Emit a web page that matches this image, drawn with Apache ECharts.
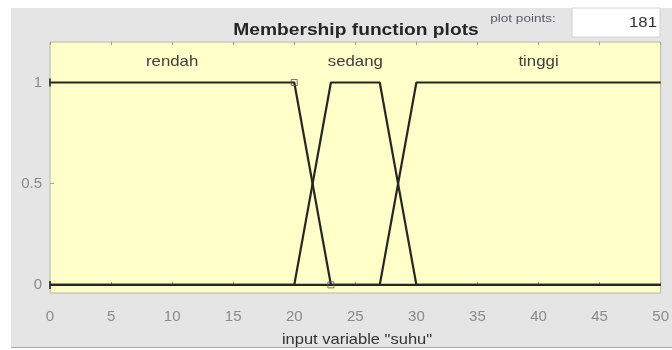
<!DOCTYPE html>
<html>
<head>
<meta charset="utf-8">
<script src="https://cdn.jsdelivr.net/npm/echarts@6/dist/echarts.min.js"></script>
<style>
  html, body { margin: 0; padding: 0; background: #ffffff; }
  #chart { width: 672px; height: 350px; }
</style>
</head>
<body>
<div id="chart"></div>
<script>
// Membership functions of the input variable "suhu" (breakpoints of each trapezoid)
const rendahX = [0, 20, 23, 50];
const rendahY = [1, 1, 0, 0];
const sedangX = [0, 20, 23, 27, 30, 50];
const sedangY = [0, 0, 1, 1, 0, 0];
const tinggiX = [0, 27, 30, 50];
const tinggiY = [0, 0, 1, 1];

// Names of the membership functions and where their labels sit
const mfNames = ['rendah', 'sedang', 'tinggi'];
const mfLabelX = [10, 25, 40];
const mfLabelY = 1.1;

// Vertex handles of the selected function (rendah)
const handleX = [20, 23];
const handleY = [1, 0];
const endX = [0, 0];
const endY = [1, 0];

const yTicks = [0, 0.5, 1];
const plotPoints = '181';
const titleText = 'Membership function plots';
const axisName = 'input variable "suhu"';

const zip = (xs, ys) => xs.map((x, i) => [x, ys[i]]);

const font = 'Liberation Sans, Arial, sans-serif';
const lineColor = '#262622';

const chart = echarts.init(document.getElementById('chart'), null, { renderer: 'canvas' });

const mfSeries = [[rendahX, rendahY], [sedangX, sedangY], [tinggiX, tinggiY]].map((p, i) => ({
  type: 'line',
  name: mfNames[i],
  data: zip(p[0], p[1]),
  showSymbol: false,
  symbol: 'none',
  lineStyle: { color: lineColor, width: 2.2 },
  z: 3
}));

// Horizontally widened text, anchored at (x, y)
function wideText(id, text, x, y, size, scaleX, opts) {
  return {
    id: id, type: 'text', x: x, y: y, scaleX: scaleX, z: 10,
    style: Object.assign({
      text: text, font: size + 'px ' + font, fill: '#333333',
      align: 'center', verticalAlign: 'middle'
    }, opts || {})
  };
}

chart.setOption({
  animation: false,
  graphic: [
    { id: 'panel', type: 'rect', shape: { x: 11, y: 8, width: 661, height: 340 }, style: { fill: '#e5e5e5' }, z: -10 },
    { id: 'panelEdge', type: 'rect', shape: { x: 11, y: 347, width: 661, height: 1 }, style: { fill: '#a8a8a8' }, z: -9 },
    { id: 'box', type: 'rect', shape: { x: 572, y: 8, width: 88, height: 29 }, style: { fill: '#ffffff', stroke: '#d4d4d4', lineWidth: 1 }, z: -5 },
    wideText('pp', plotPoints, 657, 23, 15, 1.12, { align: 'right', fill: '#333333' }),
    wideText('ppLabel', 'plot points:', 523, 19, 10, 1.35, { fill: '#5c5c6e' }),
    wideText('title', titleText, 356, 30, 17, 1.13, { font: 'bold 17px ' + font, fill: '#262626' }),
    wideText('axisName', axisName, 357, 340, 15, 1.1, { fill: '#333333' })
  ],
  grid: {
    left: 50, right: 9, top: 42, bottom: 57,
    show: true, backgroundColor: '#ffffc9', borderColor: '#b8b8a8', borderWidth: 1
  },
  xAxis: [{
    type: 'value', min: 0, max: 50, interval: 5,
    axisLine: { show: false },
    axisTick: { show: true, inside: true, length: 3, lineStyle: { color: '#999999' } },
    axisLabel: { margin: 16, fontFamily: font, fontSize: 15, color: '#8a8a8a' },
    splitLine: { show: false }
  }, {
    type: 'value', position: 'top', min: 0, max: 50, interval: 5,
    axisLine: { show: false },
    axisTick: { show: true, inside: true, length: 3, lineStyle: { color: '#999999' } },
    axisLabel: { show: false },
    splitLine: { show: false }
  }],
  yAxis: {
    type: 'value', min: -0.04, max: 1.2,
    axisLine: { show: false },
    axisTick: { show: true, inside: true, length: 4, customValues: yTicks, lineStyle: { color: '#aaaaaa' } },
    axisLabel: { customValues: yTicks, margin: 8, fontFamily: font, fontSize: 15, color: '#8a8a8a' },
    splitLine: { show: false }
  },
  series: mfSeries.concat([
    {
      type: 'scatter', data: zip(handleX, handleY), symbol: 'rect', symbolSize: 6,
      itemStyle: { color: 'rgba(0,0,0,0)', borderColor: '#555555', borderWidth: 1 }, z: 4
    },
    {
      type: 'scatter', data: zip(endX, endY), symbol: 'rect', symbolSize: [2, 8],
      itemStyle: { color: lineColor }, z: 4
    }
  ])
});

// Function names, placed through the axis scales
chart.setOption({
  graphic: mfNames.map((name, i) => {
    const pt = chart.convertToPixel({ gridIndex: 0 }, [mfLabelX[i], mfLabelY]);
    return wideText('mf' + i, name, pt[0], pt[1], 15, 1.12, { fill: '#404040' });
  })
});
</script>
</body>
</html>
